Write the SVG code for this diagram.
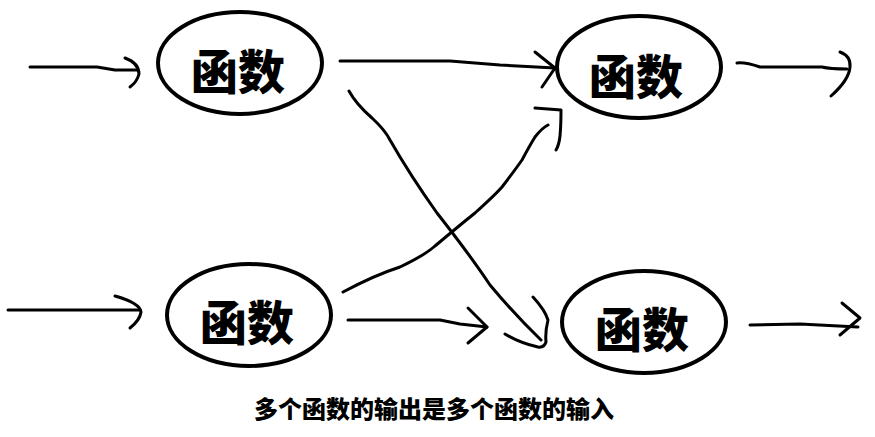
<svg xmlns="http://www.w3.org/2000/svg" width="875" height="437" viewBox="0 0 875 437">
<style>
.node ellipse{fill:#fff;stroke:#000;stroke-width:4}
.node text{font-family:"Noto Sans CJK SC","Noto Sans",sans-serif;font-weight:900;font-size:47px;text-anchor:middle;fill:#000}
.ln{fill:none;stroke:#000;stroke-width:3;stroke-linecap:round;stroke-linejoin:round}
.cap{font-family:"Noto Sans CJK SC","Noto Sans",sans-serif;font-weight:900;font-size:24px;text-anchor:middle;fill:#000}
</style>
<rect width="875" height="437" fill="#fff"/>
<g id="connectors">
<path class="ln" d="M30,67 L97,67 L115,70 L137,70"/>
<path class="ln" d="M125,58 Q139,63 139,74 Q137,82 130,87"/>
<path class="ln" d="M8,310 L140,310"/>
<path class="ln" d="M115,296 Q140,303 141,312 Q140,320 130,328"/>
<path class="ln" d="M340,61 L450,61 L500,65 L555,68"/>
<path class="ln" d="M535,52 L555,68 L542,87"/>
<path class="ln" d="M348,320 L440,320 L460,324 L487,327"/>
<path class="ln" d="M468,308 L487,327 L468,343"/>
<path class="ln" d="M349,91 Q356,104 372,118 Q385,130 390,140 Q410,175 437,213 Q470,255 490,285 Q515,315 541,340"/>
<path class="ln" d="M533,297 Q545,310 548,320 Q545,332 546,342 Q544,348 538,347 Q520,343 505,334"/>
<path class="ln" d="M343,292 Q375,275 400,267 Q425,255 435,246 Q460,225 475,213 Q495,195 502,187 Q515,170 522,160 Q530,145 535,137 Q542,128 548,125"/>
<path class="ln" d="M535,108 L561,110 Q561,125 560,136 Q559,145 556,150"/>
<path class="ln" d="M737,63 Q745,62 760,67 L822,67 Q830,69 847,69"/>
<path class="ln" d="M840,52 Q851,56 850,67 Q849,80 831,96"/>
<path class="ln" d="M750,325 L800,324 L858,327"/>
<path class="ln" d="M842,303 L860,318 L840,335"/>
</g>
<g id="node1" class="node"><ellipse cx="240" cy="63" rx="82" ry="51"/><text x="238" y="89">函数</text></g>
<g id="node2" class="node"><ellipse cx="639" cy="67" rx="82" ry="51"/><text x="636" y="94">函数</text></g>
<g id="node3" class="node"><ellipse cx="249" cy="315" rx="82" ry="51"/><text x="247" y="340">函数</text></g>
<g id="node4" class="node"><ellipse cx="644" cy="322" rx="82" ry="51"/><text x="642" y="347">函数</text></g>
<text class="cap" x="434" y="418">多个函数的输出是多个函数的输入</text>
</svg>
